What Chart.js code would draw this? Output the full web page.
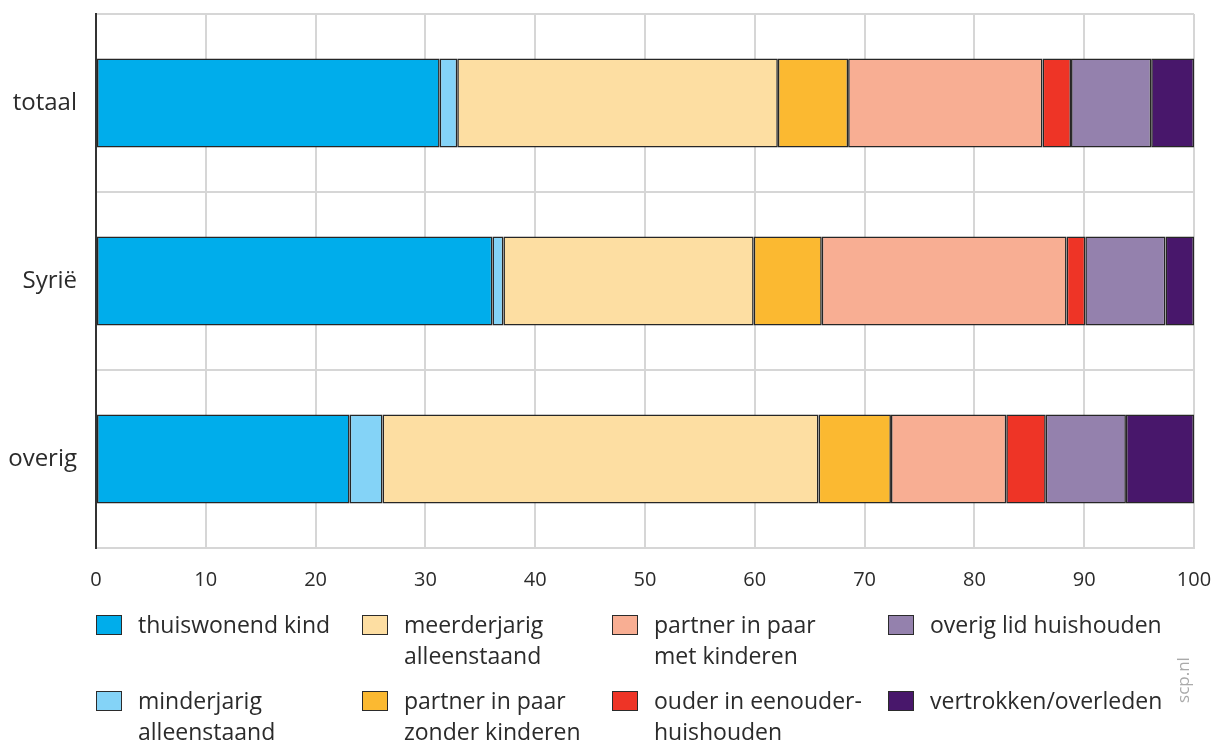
<!DOCTYPE html>
<html>
<head>
<meta charset="utf-8">
<script src="https://cdn.jsdelivr.net/npm/chart.js@4/dist/chart.umd.min.js"></script>
<style>
  html, body { margin:0; padding:0; background:#fff; }
  #wrap { position:relative; width:1211px; height:742px; overflow:hidden; font-family:"Open Sans", sans-serif; color:#2b2b2b; }
  canvas { position:absolute; left:0; top:0; }
  .lg { position:absolute; }
  .lg .box { position:absolute; width:26px; height:20px; border:1.5px solid #2b2b2b; box-sizing:border-box; }
  .lg .txt { position:absolute; font-size:23px; line-height:31px; white-space:nowrap; color:#2b2b2b; }
  #src { position:absolute; left:1170px; top:655px; width:24px; height:50px; }
  #src span { position:absolute; left:50%; top:50%; transform:translate(-50%,-50%) rotate(-90deg); font-size:17px; color:#aaaaaa; white-space:nowrap; }
</style>
</head>
<body>
<div id="wrap">
  <canvas id="c" width="1211" height="742"></canvas>
  <div id="legend"></div>
  <div id="src"><span>scp.nl</span></div>
</div>
<script>
const categories = ["totaal", "Syrië", "overig"];
const seriesNames = [
  ["thuiswonend kind"],
  ["minderjarig", "alleenstaand"],
  ["meerderjarig", "alleenstaand"],
  ["partner in paar", "zonder kinderen"],
  ["partner in paar", "met kinderen"],
  ["ouder in eenouder-", "huishouden"],
  ["overig lid huishouden"],
  ["vertrokken/overleden"]
];
const seriesColors = ["#00adeb", "#84d3f7", "#fddea2", "#fbb931", "#f8ae93", "#ee3426", "#9481ad", "#48176b"];
const thuiswonendKind        = [31.3, 36.1, 23.1];
const minderjarigAlleen      = [1.6, 1.0, 3.0];
const meerderjarigAlleen     = [29.2, 22.8, 39.7];
const partnerZonderKinderen  = [6.4, 6.2, 6.6];
const partnerMetKinderen     = [17.7, 22.3, 10.5];
const ouderEenouder          = [2.6, 1.7, 3.6];
const overigLid              = [7.3, 7.3, 7.3];
const vertrokkenOverleden    = [3.9, 2.6, 6.2];
const xTicks = [0, 10, 20, 30, 40, 50, 60, 70, 80, 90, 100];

const seriesValues = [thuiswonendKind, minderjarigAlleen, meerderjarigAlleen, partnerZonderKinderen,
                      partnerMetKinderen, ouderEenouder, overigLid, vertrokkenOverleden];

const datasets = seriesValues.map((vals, i) => ({
  label: seriesNames[i].join(" "),
  data: vals,
  backgroundColor: seriesColors[i],
  borderColor: "#262626",
  borderWidth: 1.6,
  borderSkipped: false,
  barPercentage: 1,
  categoryPercentage: 0.5
}));

const gridCol = "#d6d6d6";
new Chart(document.getElementById("c"), {
  type: "bar",
  data: { labels: categories, datasets },
  options: {
    indexAxis: "y",
    responsive: false,
    animation: false,
    devicePixelRatio: 1,
    layout: { padding: { top: 14, right: 17, left: 0, bottom: 144 } },
    plugins: { legend: { display: false }, tooltip: { enabled: false } },
    scales: {
      x: {
        stacked: true, min: 0, max: 100,
        afterBuildTicks(s) { s.ticks = xTicks.map(v => ({ value: v })); },
        afterFit(s) { s.height = 50; s.paddingLeft = 0; s.paddingRight = 0; },
        grid: { color: gridCol, lineWidth: 2, drawTicks: false },
        border: { color: gridCol, width: 2 },
        ticks: { padding: 20, color: "#2b2b2b", font: { family: "Open Sans", size: 20 }, maxRotation: 0 }
      },
      y: {
        stacked: true,
        afterFit(s) { s.width = 96; s.paddingTop = 0; s.paddingBottom = 0; },
        grid: { color: gridCol, lineWidth: 2, drawTicks: false, offset: true },
        border: { color: "#333333", width: 2 },
        ticks: { padding: 19, color: "#2b2b2b", font: { family: "Open Sans", size: 24 } }
      }
    }
  }
});

// HTML legend (column-major: 4 columns x 2 rows)
const colX = [96, 362, 612, 888];
const rowBoxTop = [615, 691];
const lg = document.getElementById("legend");
seriesNames.forEach((lines, i) => {
  const col = Math.floor(i / 2), row = i % 2;
  const item = document.createElement("div");
  item.className = "lg";
  item.style.left = colX[col] + "px";
  item.style.top = rowBoxTop[row] + "px";
  const box = document.createElement("div");
  box.className = "box";
  box.style.left = "0px"; box.style.top = "0px";
  box.style.background = seriesColors[i];
  const txt = document.createElement("div");
  txt.className = "txt";
  txt.style.left = "42px"; txt.style.top = "-6px";
  txt.innerHTML = lines.join("<br>");
  item.appendChild(box); item.appendChild(txt);
  lg.appendChild(item);
});
</script>
</body>
</html>
